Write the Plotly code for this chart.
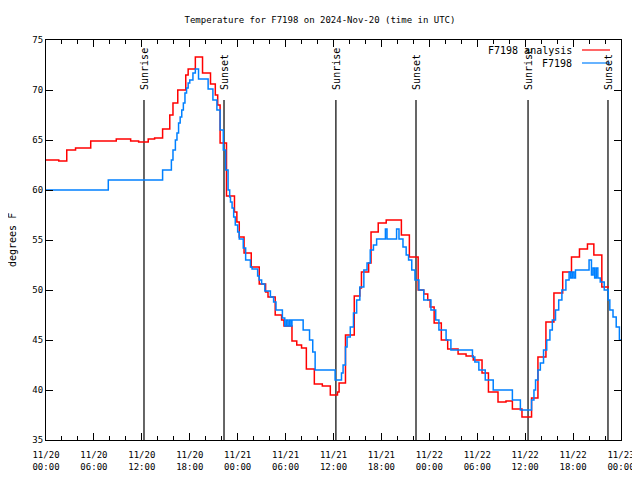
import plotly.graph_objects as go

# ---- data (hours since 2024-11-20 00:00 UTC) ----
analysis_hours = [0.0, 1.6, 2.6, 3.7, 5.6, 8.8, 10.6, 11.6, 12.8, 13.6, 14.6, 15.5, 15.9, 16.5,
                  17.5, 17.8, 18.7, 19.6, 20.6, 21.2, 21.5, 21.8, 22.6, 23.6, 23.9, 24.2, 24.8,
                  25.7, 26.7, 27.5, 27.8, 28.7, 29.5, 29.8, 30.8, 31.4, 32.0, 32.6, 33.6, 34.6,
                  35.6, 36.5, 36.7, 37.5, 38.6, 39.3, 39.5, 40.4, 40.7, 41.6, 42.6, 44.5, 45.5,
                  46.6, 47.3, 47.8, 48.1, 48.6, 49.5, 50.3, 51.6, 52.6, 53.5, 54.6, 55.4, 56.6,
                  57.6, 58.4, 59.6, 60.8, 61.6, 62.6, 63.6, 64.7, 65.8, 66.8, 67.8, 68.6, 69.6,
                  70.5]
analysis_temps = [63.0, 62.9, 64.0, 64.2, 64.9, 65.1, 64.9, 64.8, 65.1, 65.2, 66.1, 67.5, 68.7, 70.0,
                  71.5, 72.1, 73.3, 71.7, 70.6, 69.5, 68.5, 64.7, 59.4, 57.8, 56.8, 55.3, 53.7,
                  52.3, 50.6, 49.8, 49.3, 47.5, 47.0, 46.4, 44.9, 44.5, 44.2, 42.1, 40.6, 40.4,
                  39.5, 39.8, 40.7, 45.5, 49.4, 50.2, 51.8, 52.7, 55.8, 56.7, 57.0, 55.5, 53.3,
                  50.0, 49.6, 49.0, 48.3, 46.7, 45.0, 44.1, 43.6, 43.4, 43.0, 41.7, 39.8, 38.8,
                  38.9, 38.1, 37.3, 39.2, 43.3, 46.8, 49.7, 51.8, 53.3, 54.1, 54.6, 53.5, 50.3,
                  50.3]

obs_hours = [0.0, 7.8, 14.6, 15.7, 15.9, 16.2, 16.4, 16.6, 16.8, 17.0, 17.2, 17.4, 17.6, 17.8,
             18.0, 18.4, 18.7, 19.1, 20.3, 20.9, 21.4, 21.8, 22.2, 22.5, 22.8, 23.0, 23.1, 23.3,
             23.5, 23.7, 24.0, 24.2, 24.7, 25.0, 25.6, 25.8, 26.5, 26.7, 27.0, 27.4, 28.1, 28.5,
             28.8, 29.6, 29.9, 30.1, 30.3, 30.5, 30.7, 30.8, 32.2, 33.0, 33.4, 33.7, 36.2, 37.0,
             37.2, 37.5, 37.7, 38.1, 38.5, 38.9, 39.3, 39.8, 40.2, 40.6, 41.0, 41.4, 42.5, 42.7,
             43.9, 44.2, 44.7, 45.1, 45.4, 45.8, 46.2, 46.7, 47.3, 48.2, 48.8, 49.2, 50.1, 50.7,
             53.4, 53.7, 54.2, 55.0, 56.0, 58.4, 59.4, 60.8, 61.1, 61.3, 61.6, 61.9, 62.3, 62.7,
             63.1, 63.4, 63.8, 64.2, 64.6, 65.1, 65.5, 65.7, 65.9, 66.1, 66.3, 68.0, 68.3, 68.5,
             68.7, 68.9, 69.1, 69.4, 69.9, 70.4, 70.6, 71.0, 71.4, 71.8, 72.0]
obs_temps = [60.0, 61.0, 62.0, 63.0, 64.0, 65.0, 65.7, 66.7, 67.3, 68.0, 68.7, 69.7, 70.2, 70.7,
             71.0, 71.7, 72.1, 71.1, 70.1, 69.0, 68.0, 66.0, 64.0, 62.0, 60.0, 59.3, 58.8, 58.2,
             57.3, 56.5, 55.8, 55.1, 54.2, 53.0, 52.3, 52.1, 51.4, 51.0, 50.6, 49.9, 49.3, 48.8,
             48.0, 47.2, 46.4, 47.0, 46.4, 47.0, 46.4, 47.0, 46.0, 45.0, 43.8, 42.0, 41.0, 41.7,
             42.5, 44.3, 45.3, 46.3, 47.7, 49.0, 50.3, 52.0, 52.7, 54.0, 54.5, 55.1, 56.1, 55.1,
             56.1, 55.1, 54.3, 53.5, 53.0, 52.0, 51.0, 50.0, 49.0, 48.0, 47.0, 46.0, 45.0, 44.0,
             43.3, 42.8, 42.0, 41.0, 40.0, 39.0, 38.0, 39.0, 40.0, 41.0, 42.0, 42.7, 44.0, 45.0,
             46.0, 47.0, 48.0, 49.0, 50.0, 51.0, 51.8, 51.2, 51.8, 51.2, 52.0, 53.0, 51.5, 52.2,
             51.2, 52.2, 51.2, 50.8, 50.0, 49.0, 48.0, 47.3, 46.3, 45.0, 45.0]

sun_hours = [12.27, 22.29, 36.30, 46.33, 60.36, 70.37]
sun_labels = ["Sunrise", "Sunset", "Sunrise", "Sunset", "Sunrise", "Sunset"]

x_tick_hours = [0, 6, 12, 18, 24, 30, 36, 42, 48, 54, 60, 66, 72]
x_tick_labels = ["11/20<br>00:00", "11/20<br>06:00", "11/20<br>12:00", "11/20<br>18:00",
                 "11/21<br>00:00", "11/21<br>06:00", "11/21<br>12:00", "11/21<br>18:00",
                 "11/22<br>00:00", "11/22<br>06:00", "11/22<br>12:00", "11/22<br>18:00",
                 "11/23<br>00:00"]
y_ticks = [35, 40, 45, 50, 55, 60, 65, 70, 75]

RED = "#ff0000"
BLUE = "#0080ff"
FONT = "DejaVu Sans Mono"

# the page body has an 8px margin, so the figure is 632x472 and sits at (8, 8)
W, H = 632, 472
ML, MR, MT, MB = 38, 19, 32, 40
PW = W - ML - MR  # plot width in px
PH = H - MT - MB  # plot height in px

fig = go.Figure()
fig.add_trace(go.Scatter(x=analysis_hours, y=analysis_temps, mode="lines", line_shape="hv",
                         line=dict(color=RED, width=1.5), name="F7198 analysis"))
fig.add_trace(go.Scatter(x=obs_hours, y=obs_temps, mode="lines", line_shape="hv",
                         line=dict(color=BLUE, width=1.5), name="F7198"))

for h, lab in zip(sun_hours, sun_labels):
    fig.add_shape(type="line", x0=h, x1=h, y0=35, y1=69, xref="x", yref="y",
                  line=dict(color="black", width=1.2), layer="below")
    fig.add_annotation(x=h, y=69.8, xref="x", yref="y", text=lab, textangle=-90,
                       showarrow=False, xanchor="center", yanchor="bottom",
                       font=dict(family=FONT, size=10, color="black"))

# legend (gnuplot style: text then sample line); positions in plot pixels
legend_rows = [("F7198 analysis", RED, 10), ("F7198", BLUE, 23)]
for text, col, dy in legend_rows:
    yy = 1 - dy / PH
    fig.add_annotation(x=528 / PW, y=yy, xref="paper", yref="paper", text=text, showarrow=False,
                       xanchor="right", yanchor="middle", font=dict(family=FONT, size=10, color="black"))
    fig.add_shape(type="line", x0=536 / PW, x1=564 / PW, y0=yy, y1=yy, xref="paper", yref="paper",
                  line=dict(color=col, width=1.2))

fig.add_annotation(x=-34 / PW, y=0.5, xref="paper", yref="paper", text="degrees F", textangle=-90,
                   showarrow=False, xanchor="center", yanchor="middle",
                   font=dict(family=FONT, size=10, color="black"))

fig.update_layout(
    width=W, height=H,
    margin=dict(l=ML, r=MR, t=MT, b=MB, autoexpand=False),
    paper_bgcolor="white", plot_bgcolor="white",
    showlegend=False,
    title=dict(text="Temperature for F7198 on 2024-Nov-20 (time in UTC)", x=312 / W, xref="container",
               y=1 - 12 / H, yref="container", xanchor="center", yanchor="middle",
               font=dict(family=FONT, size=9, color="black")),
    font=dict(family=FONT, size=10, color="black"),
)
fig.update_xaxes(range=[0, 72], tickvals=x_tick_hours, ticktext=x_tick_labels, automargin=False,
                 showgrid=False, zeroline=False, showline=True, linecolor="black", linewidth=1,
                 mirror="ticks", ticks="inside", ticklen=7, tickcolor="black", ticklabelstandoff=6,
                 minor=dict(dtick=2, tick0=0, ticks="inside", ticklen=4, tickcolor="black", showgrid=False),
                 tickfont=dict(family=FONT, size=9))
fig.update_yaxes(range=[35, 75], tickvals=y_ticks, showgrid=False, zeroline=False, automargin=False,
                 showline=True, linecolor="black", linewidth=1, mirror="ticks",
                 ticks="inside", ticklen=7, tickcolor="black",
                 tickfont=dict(family=FONT, size=9))

fig.write_html("out.html")
